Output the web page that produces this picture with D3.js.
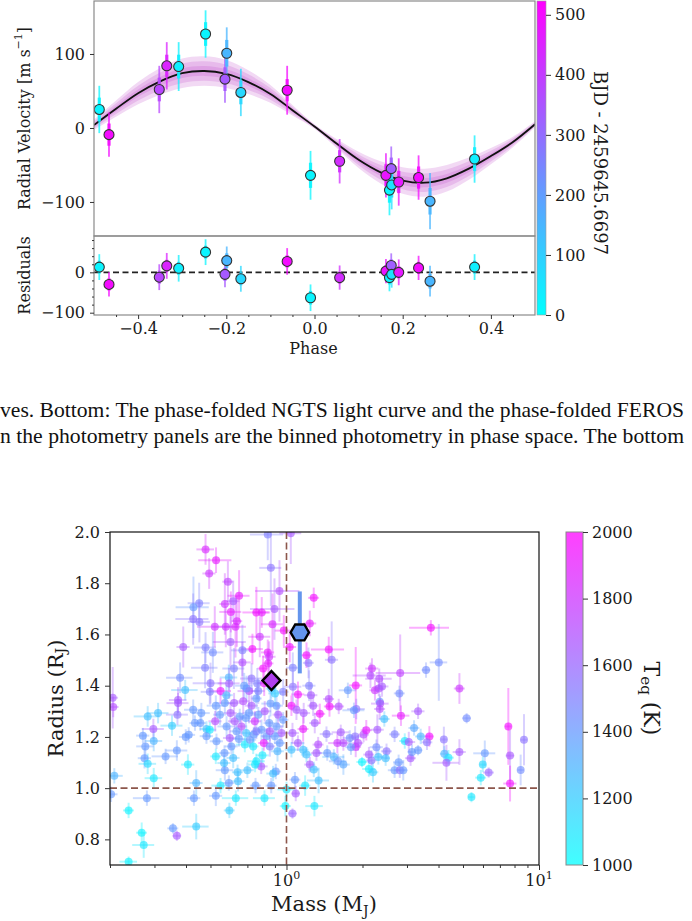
<!DOCTYPE html>
<html><head><meta charset="utf-8">
<script src="https://cdn.jsdelivr.net/npm/d3@7"></script>
<style>body{margin:0;background:#fff}svg{display:block}</style>
</head><body>
<svg id="c" width="692" height="921"></svg>
<script>
// ---------------- RV data (top figure) ----------------
const rvPhase = [-0.488,-0.466,-0.352,-0.335,-0.308,-0.247,-0.199,-0.203,-0.167,-0.062,-0.009,0.057,0.162,0.174,0.170,0.175,0.191,0.236,0.262,0.363];
const rvValue = [25,-9,52,84,83,127,101,66,48,51,-64,-45,-64,-55,-84,-77,-73,-67,-99,-42];
const rvResidual = [13,-30,-12,16,10,50,29,-5,-16,27,-63,-13,3,17,-13,-5,0,11,-22,13];
const rvTime = [20,500,380,450,30,20,150,340,80,500,20,430,480,330,20,60,470,500,150,30];
const rvErrOuter = [32,30,32,32,33,32,35,32,32,33,33,30,30,30,34,33,32,30,38,32];
const rvErrInner = [16,15,16,15,16,16,18,16,16,15,17,15,15,15,17,17,15,15,18,16];
const modelPhase = [-0.5,-0.45,-0.4,-0.35,-0.3,-0.25,-0.2,-0.15,-0.1,-0.05,0,0.05,0.1,0.15,0.2,0.25,0.3,0.35,0.4,0.45,0.5];
const modelRV = [4,26,47,63,74,77,73,62,46,24,2,-21,-43,-60,-71,-74,-68,-55,-38,-19,5];
const modelBand = [7,11,15,18,20,20,19,16,12,7,3,6,11,15,18,19,18,15,11,7,4];
const phaseTicks = [-0.4,-0.2,0,0.2,0.4];
const rvTicks = [-100,0,100];
const resTicks = [-100,0];
const bjdTicks = [0,100,200,300,400,500];

const captionLines = [
  "ves. Bottom: The phase-folded NGTS light curve and the phase-folded FEROS",
  "n the photometry panels are the binned photometry in phase space. The bottom"
];

// ---------------- Mass-radius data (bottom figure) ----------------
const planetMass = [
 0.843,1.04,0.478,0.526,0.494,0.586,0.649,0.867,0.938,1.282,
 0.451,0.428,0.427,0.452,0.570,0.615,0.602,0.636,0.628,0.575,
 0.520,0.760,0.798,0.896,0.880,0.976,1.237,0.784,0.600,0.390,
 0.478,0.511,0.733,0.843,0.669,0.669,1.03,1.20,0.476,0.619,
 1.059,1.222,0.379,0.500,0.397,0.591,0.593,0.727,0.766,0.816,
 0.808,0.846,0.854,1.06,1.11,1.229,1.25,0.548,0.68,0.711,
 0.205,0.372,0.90,
 3.73,1.47,1.51,4.01,3.57,2.18,2.15,2.33,2.82,1.88,
 1.75,2.24,2.32,2.39,2.80,4.84,1.47,2.34,
 1.48,1.61,1.89,1.85,2.35,2.34,2.84,3.32,2.44,5.17,
 7.56,8.72,1.44,1.64,1.78,1.87,2.02,2.07,2.29,2.68,
 3.20,2.94,3.05,3.40,3.68,3.60,4.20,4.84,1.59,1.68,
 1.88,1.92,1.80,2.27,2.49,1.45,1.54,1.60,1.68,1.99,
 2.12,2.17,2.31,2.47,2.12,2.20,2.78,2.68,2.81,2.90,
 3.10,3.14,3.32,4.22,4.38,4.30,6.10,5.99,5.88,6.32,
 7.68,8.46,7.68,5.40,
 0.206,0.372,0.370,0.282,0.31,0.352,0.297,0.270,0.276,0.298,
 0.274,0.282,0.332,0.368,0.399,0.41,0.407,0.208,0.298,0.439,
 0.202,0.280,0.43,0.525,0.63,0.818,0.237,0.267,0.272,0.355,
 0.368,0.439,0.594,0.237,0.99,1.056,1.088,1.29,1.34,1.185,
 1.08,1.0,0.921,0.907,0.885,0.794,0.760,0.751,0.803,0.70,
 0.64,0.643,0.591,0.57,0.566,0.525,0.615,0.568,0.754,0.548,
 0.87,0.525,0.57,0.62,0.674,0.727,0.864,0.913,0.522,0.579,
 0.624,0.663,0.69,0.749,0.796,0.854,0.913,0.955,0.833,0.742,
 0.596,0.648,0.684,0.716,0.813,0.899,0.482,0.434,0.456,0.497,
 0.482,1.046,1.095,1.17,1.275,1.355,1.294,1.164,1.056,1.11,
 1.046,1.164,1.2,1.335,1.314,1.237,1.283,
 0.545,0.60,0.653,0.711,0.773,0.82,0.927,0.97,0.634,0.76,
 0.859,0.693,0.605,0.738,0.859,0.94,0.528,0.46,0.427,0.695,
 0.773,0.871,0.97,0.497,0.578,0.76
];
const planetRadius = [
 1.99,1.995,1.932,1.89,1.838,1.806,1.751,1.86,1.77,1.743,
 1.722,1.706,1.66,1.649,1.719,1.73,1.688,1.652,1.63,1.63,
 1.63,1.686,1.686,1.699,1.64,1.615,1.643,1.591,1.571,1.551,
 1.549,1.53,1.543,1.53,1.538,1.491,1.551,1.519,1.47,1.467,
 1.47,1.489,1.431,1.41,1.383,1.432,1.409,1.428,1.409,1.41,
 1.467,1.487,1.513,1.396,1.366,1.40,1.363,1.379,1.40,1.379,
 1.353,1.344,1.37,
 1.626,1.541,1.501,1.491,1.461,1.467,1.44,1.427,1.45,1.401,
 1.382,1.382,1.389,1.397,1.37,1.389,1.348,1.337,
 1.319,1.319,1.309,1.304,1.33,1.309,1.283,1.30,1.27,1.273,
 1.241,1.189,1.211,1.218,1.196,1.202,1.209,1.226,1.228,1.21,
 1.235,1.184,1.18,1.202,1.202,1.179,1.19,1.141,1.176,1.176,
 1.161,1.176,1.16,1.16,1.144,1.137,1.122,1.105,1.092,1.102,
 1.131,1.108,1.122,1.117,1.075,1.062,1.101,1.07,1.07,1.07,
 1.117,1.141,1.148,1.134,1.119,1.099,1.136,1.092,1.041,1.061,
 1.127,1.071,1.018,0.965,
 1.317,1.332,1.287,1.28,1.293,1.244,1.231,1.205,1.163,1.184,
 1.117,1.095,1.124,1.147,1.20,1.208,1.092,1.048,1.039,1.02,
 0.976,0.961,0.961,0.97,0.961,0.961,0.913,0.826,0.778,0.843,
 0.814,0.85,0.913,0.713,0.93,0.901,0.979,0.93,1.03,1.01,
 1.033,0.995,1.144,1.065,1.057,1.085,1.105,1.092,1.128,1.07,
 1.062,1.027,1.02,1.07,1.098,1.124,1.118,1.137,1.01,1.01,
 1.01,1.322,1.332,1.332,1.339,1.322,1.33,1.322,1.261,1.241,
 1.261,1.241,1.274,1.261,1.228,1.254,1.241,1.215,1.203,1.209,
 1.196,1.192,1.17,1.189,1.176,1.203,1.231,1.254,1.254,1.228,
 1.203,1.322,1.306,1.293,1.322,1.29,1.254,1.231,1.215,1.176,
 1.15,1.15,1.131,1.17,1.137,1.092,1.073,
 1.287,1.293,1.28,1.293,1.287,1.30,1.287,1.267,1.222,1.222,
 1.222,1.215,1.163,1.163,1.163,1.176,1.183,1.293,1.306,1.389,
 1.379,1.389,1.376,1.376,1.363,1.35
];
const planetTeq = [
 1500,1650,1850,1900,1800,1750,1900,1550,1700,1950,
 1500,1400,1550,1550,1800,1650,1900,1850,1850,1800,
 1800,1950,1900,1650,1850,1950,1900,1800,1650,1650,
 1500,1450,1950,1900,1500,1700,1950,1950,1500,1500,
 1500,1550,1450,1550,1250,1300,1650,1550,1500,1900,
 1950,1900,1800,1550,1950,1500,1650,1900,1400,1700,
 1650,1650,1200,
 1950,1950,1550,1450,1450,1800,1700,1700,1750,1950,
 1400,1800,1700,1650,1450,1800,1700,1400,
 1950,1700,1550,1400,1700,1700,1900,1650,1250,1450,
 1950,1550,1550,1650,1450,1550,1700,1900,1650,1500,
 1350,1100,1650,1300,1950,1550,1550,1650,1800,1700,
 1800,1700,1400,1450,1550,1400,1300,1400,1350,1050,
 1650,1550,1250,1250,1050,1200,1400,1400,1550,1400,
 1650,1400,1400,1300,1100,1650,1400,1150,1100,1600,
 1650,1450,1950,1100,
 1700,1650,1550,1250,1250,1200,1650,1400,1400,1300,
 1400,1150,1400,1400,1400,1400,1100,1300,1100,1300,
 1400,1400,1400,1400,1100,1100,1050,1050,1100,1400,
 1650,1200,1200,1050,1050,1600,1650,1100,1250,1100,
 1400,1100,1300,1400,1250,1650,1100,1100,1100,1250,
 1250,1250,1400,1400,1250,1100,1250,1400,1400,1100,
 1400,1400,1400,1650,1700,1650,1400,1400,1700,1400,
 1650,1700,1400,1800,1400,1400,1400,1650,1400,1400,
 1650,1400,1100,1400,1900,1400,1250,1400,1400,1100,
 1400,1950,1650,1650,1650,1950,1650,1900,1650,1650,
 1250,1250,1250,1700,1650,1650,1250,
 1400,1650,1400,1400,1400,1650,1650,1400,1400,1500,
 1650,1250,1400,1100,1500,1400,1400,1400,1400,1400,
 1500,1250,1500,1500,1300,1400
];
const massRelErr = [
 .15,.1,.08,.15,.06,.05,.1,.1,.2,.05,
 .1,.15,.15,.1,.05,.06,.1,.05,.1,.12,
 .15,.12,.08,.2,.1,.08,.06,.1,.15,.06,
 .1,.1,.1,.06,.1,.08,.06,.05,.12,.1,
 .06,.05,.12,.15,.12,.08,.1,.1,.08,.06,
 .05,.05,.06,.08,.06,.06,.06,.1,.08,.1,
 .05,.08,.06,
 .18,.15,.06,.08,.04,.06,.15,.12,.2,.06,
 .08,.05,.05,.06,.05,.05,.05,.04,
 .05,.05,.08,.1,.08,.05,.08,.06,.05,.04,
 .03,.03,.06,.08,.06,.06,.05,.05,.06,.05,
 .05,.05,.06,.05,.04,.05,.03,.06,.08,.06,
 .05,.05,.05,.06,.05,.08,.1,.08,.06,.05,
 .05,.05,.05,.04,.06,.05,.05,.06,.05,.04,
 .05,.04,.04,.04,.05,.12,.1,.03,.05,.05,
 .04,.03,.06,.03,
 .05,.1,.1,.12,.1,.1,.1,.06,.08,.08,
 .06,.08,.12,.1,.06,.06,.06,.08,.08,.06,
 .06,.12,.06,.06,.12,.1,.05,.05,.1,.05,
 .04,.12,.05,.08,.05,.04,.04,.08,.1,.05,
 .05,.08,.06,.05,.06,.06,.08,.06,.06,.06,
 .05,.06,.05,.08,.06,.05,.06,.05,.05,.08,
 .05,.08,.08,.06,.06,.06,.08,.06,.06,.08,
 .06,.05,.05,.06,.06,.05,.06,.05,.05,.05,
 .06,.06,.08,.06,.05,.05,.06,.05,.05,.06,
 .06,.05,.05,.06,.05,.05,.05,.05,.06,.06,
 .06,.05,.05,.05,.05,.05,.05,
 .06,.06,.05,.06,.05,.06,.05,.05,.06,.05,
 .05,.06,.06,.05,.05,.05,.06,.08,.08,.06,
 .06,.05,.05,.08,.06,.05
];
const radiusErr = [
 .1,.12,.06,.05,.06,.08,.1,.15,.12,.04,
 .08,.12,.1,.08,.12,.08,.08,.1,.12,.08,
 .08,.1,.06,.12,.12,.06,.05,.08,.1,.08,
 .06,.08,.06,.05,.1,.08,.06,.05,.08,.08,
 .06,.06,.06,.08,.04,.05,.06,.06,.06,.05,
 .05,.05,.06,.06,.05,.06,.05,.05,.05,.06,
 .12,.05,.05,
 .03,.05,.15,.15,.03,.04,.05,.04,.15,.15,
 .03,.04,.03,.04,.03,.06,.04,.03,
 .04,.03,.04,.03,.03,.04,.04,.03,.03,.02,
 .15,.1,.03,.03,.03,.04,.03,.04,.06,.03,
 .03,.03,.04,.03,.04,.03,.05,.05,.04,.03,
 .04,.03,.03,.03,.03,.03,.03,.03,.04,.02,
 .03,.04,.03,.03,.03,.04,.03,.03,.03,.04,
 .03,.03,.02,.03,.03,.07,.05,.03,.03,.02,
 .1,.06,.07,.02,
 .04,.04,.04,.04,.04,.04,.04,.03,.05,.04,
 .04,.04,.03,.04,.03,.03,.04,.03,.04,.05,
 .03,.03,.03,.04,.03,.03,.03,.04,.05,.02,
 .02,.05,.03,.02,.04,.02,.03,.04,.05,.04,
 .03,.03,.04,.03,.03,.03,.03,.03,.03,.03,
 .03,.04,.03,.04,.03,.03,.04,.03,.03,.03,
 .03,.04,.04,.04,.05,.04,.05,.04,.04,.04,
 .03,.04,.03,.04,.04,.03,.04,.03,.03,.03,
 .04,.03,.03,.03,.03,.03,.03,.03,.03,.03,
 .03,.04,.04,.04,.04,.04,.04,.05,.04,.03,
 .03,.03,.03,.03,.03,.03,.03,
 .04,.04,.03,.04,.03,.04,.04,.03,.03,.03,
 .04,.03,.03,.03,.04,.03,.03,.04,.04,.05,
 .05,.04,.05,.05,.04,.04
];
// highlighted planets: [diamond, hexagon]
const targetMass = [0.872, 1.129];
const targetRadius = [1.42, 1.608];
const targetRadiusErr = [0.02, 0.16];
const targetColor = ["#b040ee", "#6495ed"];
const radiusTicks = [0.8,1.0,1.2,1.4,1.6,1.8,2.0];
const massMajorTicks = [1,10];
const massMinorTicks = [0.2,0.3,0.4,0.5,0.6,0.7,0.8,0.9,2,3,4,5,6,7,8,9];
const teqTicks = [1000,1200,1400,1600,1800,2000];

// ---------------- drawing ----------------
const svg = d3.select('#c');
const FONT = "'DejaVu Serif', serif";
const cool = t => { t = Math.max(0, Math.min(1, t)); return d3.rgb(255*t, 255*(1-t), 255).formatHex(); };
const defs = svg.append('defs');

function styleAxis(g, fs) {
  g.attr('font-family', FONT).attr('font-size', fs);
  g.select('.domain').remove();
  g.selectAll('text').attr('font-family', FONT).attr('font-size', fs).attr('fill', '#1a1a1a');
  g.selectAll('line').attr('stroke', '#333').attr('stroke-width', 1);
}

// ===== TOP: RV =====
const X0 = 94, X1 = 535, Y0 = 1, Y1 = 236, Y2 = 315;
const xPh = d3.scaleLinear([-0.5, 0.5], [X0, X1]);
const yRV = d3.scaleLinear([-146, 171.6], [Y1, Y0]);
const yRes = d3.scaleLinear([-105.7, 90], [Y2, Y1]);
const tNorm = d3.scaleLinear([0, 523], [0, 1]);
const colT = v => cool(tNorm(v));

defs.append('clipPath').attr('id', 'clipRV').append('rect')
  .attr('x', X0).attr('y', Y0).attr('width', X1 - X0).attr('height', Y1 - Y0);
defs.append('clipPath').attr('id', 'clipRes').append('rect')
  .attr('x', X0).attr('y', Y1).attr('width', X1 - X0).attr('height', Y2 - Y1);

const model = modelPhase.map((p, i) => ({ p, v: modelRV[i], h: modelBand[i] }));
const gBand = svg.append('g').attr('clip-path', 'url(#clipRV)');
[1, 0.66, 0.33].forEach(f => {
  gBand.append('path').datum(model)
    .attr('d', d3.area().x(d => xPh(d.p)).y0(d => yRV(d.v - d.h * f)).y1(d => yRV(d.v + d.h * f)).curve(d3.curveCatmullRom))
    .attr('fill', '#c040c8').attr('fill-opacity', 0.2);
});
gBand.append('path').datum(model)
  .attr('d', d3.line().x(d => xPh(d.p)).y(d => yRV(d.v)).curve(d3.curveCatmullRom))
  .attr('fill', 'none').attr('stroke', '#111').attr('stroke-width', 1.8);

const rvData = rvPhase.map((p, i) => ({ p, v: rvValue[i], r: rvResidual[i], t: rvTime[i], eo: rvErrOuter[i], ei: rvErrInner[i] }));

function drawRVPoints(g, yS, key) {
  g.selectAll('line.eo').data(rvData).join('line')
    .attr('x1', d => xPh(d.p)).attr('x2', d => xPh(d.p))
    .attr('y1', d => yS(d[key] - d.eo)).attr('y2', d => yS(d[key] + d.eo))
    .attr('stroke', d => colT(d.t)).attr('stroke-width', 1.8).attr('stroke-opacity', 0.75);
  g.selectAll('line.ei').data(rvData).join('line')
    .attr('x1', d => xPh(d.p)).attr('x2', d => xPh(d.p))
    .attr('y1', d => yS(d[key] - d.ei)).attr('y2', d => yS(d[key] + d.ei))
    .attr('stroke', d => colT(d.t)).attr('stroke-width', 3.2).attr('stroke-opacity', 0.9);
  g.selectAll('circle').data(rvData).join('circle')
    .attr('cx', d => xPh(d.p)).attr('cy', d => yS(d[key])).attr('r', 5)
    .attr('fill', d => colT(d.t)).attr('stroke', '#333').attr('stroke-width', 1.1);
}
const gRVpts = svg.append('g').attr('clip-path', 'url(#clipRV)');
drawRVPoints(gRVpts, yRV, 'v');

// residual panel
const gRes = svg.append('g').attr('clip-path', 'url(#clipRes)');
gRes.append('line').attr('x1', X0).attr('x2', X1).attr('y1', yRes(0)).attr('y2', yRes(0))
  .attr('stroke', '#222').attr('stroke-width', 1.8).attr('stroke-dasharray', '6,3.5');
const gResPts = gRes.append('g');
drawRVPoints(gResPts, yRes, 'r');

// frames
svg.append('rect').attr('x', X0).attr('y', Y0).attr('width', X1 - X0).attr('height', Y1 - Y0)
  .attr('fill', 'none').attr('stroke', '#8a8a8a').attr('stroke-width', 1.2);
svg.append('rect').attr('x', X0).attr('y', Y1).attr('width', X1 - X0).attr('height', Y2 - Y1)
  .attr('fill', 'none').attr('stroke', '#8a8a8a').attr('stroke-width', 1.2);

// axes
const aRV = svg.append('g').attr('transform', `translate(${X0},0)`)
  .call(d3.axisLeft(yRV).tickValues(rvTicks).tickSize(4).tickPadding(5));
styleAxis(aRV, 16);
const aRes = svg.append('g').attr('transform', `translate(${X0},0)`)
  .call(d3.axisLeft(yRes).tickValues(resTicks).tickSize(4).tickPadding(5));
styleAxis(aRes, 16);
const aResMin = svg.append('g').attr('transform', `translate(${X0},0)`)
  .call(d3.axisLeft(yRes).tickValues(d3.range(-80, 90, 20).filter(v => v !== 0)).tickSize(2).tickFormat(''));
styleAxis(aResMin, 16);
const aPh = svg.append('g').attr('transform', `translate(0,${Y2})`)
  .call(d3.axisBottom(xPh).tickValues(phaseTicks).tickSize(4).tickPadding(4).tickFormat(d3.format('.1f')));
styleAxis(aPh, 16);
const aPhMin = svg.append('g').attr('transform', `translate(0,${Y2})`)
  .call(d3.axisBottom(xPh).tickValues(d3.range(-9, 10).filter(k => k % 4 !== 0).map(k => k * 0.05)).tickSize(2).tickFormat(''));
styleAxis(aPhMin, 16);

// labels
const rvLab = svg.append('text').attr('transform', `translate(24,${(Y0 + Y1) / 2}) rotate(-90)`)
  .attr('text-anchor', 'middle').attr('dominant-baseline', 'central')
  .attr('font-family', FONT).attr('font-size', 16).attr('fill', '#1a1a1a');
rvLab.append('tspan').text('Radial Velocity [m s');
rvLab.append('tspan').attr('font-size', 11).attr('dy', -6).text('−1');
rvLab.append('tspan').attr('dy', 6).text(']');
svg.append('text').attr('transform', `translate(24,${(Y1 + Y2) / 2}) rotate(-90)`)
  .attr('text-anchor', 'middle').attr('dominant-baseline', 'central')
  .attr('font-family', FONT).attr('font-size', 16).attr('fill', '#1a1a1a').text('Residuals');
svg.append('text').attr('x', (X0 + X1) / 2 - 1).attr('y', 354).attr('text-anchor', 'middle')
  .attr('font-family', FONT).attr('font-size', 16).attr('fill', '#1a1a1a').text('Phase');

// top colorbar
const CB0 = 537, CB1 = 546;
const gradT = defs.append('linearGradient').attr('id', 'gradT').attr('x1', 0).attr('y1', 1).attr('x2', 0).attr('y2', 0);
gradT.append('stop').attr('offset', 0).attr('stop-color', cool(0));
gradT.append('stop').attr('offset', 1).attr('stop-color', cool(1));
const yCbT = d3.scaleLinear([0, 523], [Y2, Y0]);
svg.append('rect').attr('x', CB0).attr('y', Y0).attr('width', CB1 - CB0).attr('height', Y2 - Y0)
  .attr('fill', 'url(#gradT)').attr('stroke', '#999').attr('stroke-width', 0.6);
const aCbT = svg.append('g').attr('transform', `translate(${CB1},0)`)
  .call(d3.axisRight(yCbT).tickValues(bjdTicks).tickSize(5).tickPadding(4).tickFormat(d3.format('d')));
styleAxis(aCbT, 16);
svg.append('text').attr('transform', `translate(600,163) rotate(90)`)
  .attr('text-anchor', 'middle').attr('dominant-baseline', 'central')
  .attr('font-family', FONT).attr('font-size', 18).attr('fill', '#1a1a1a').text('BJD - 2459645.6697');

// ===== caption =====
captionLines.forEach((s, i) => {
  svg.append('text').attr('x', 0).attr('y', 417 + i * 26)
    .attr('font-family', "'Liberation Serif', 'Times New Roman', serif").attr('font-size', 21)
    .attr('fill', '#111').attr('textLength', 684).attr('lengthAdjust', 'spacingAndGlyphs').text(s);
});

// ===== BOTTOM: Mass-Radius =====
const MX0 = 110, MX1 = 539, MY0 = 532, MY1 = 865;
const xM = d3.scaleLog([0.2, 10], [MX0, MX1]);
const yR = d3.scaleLinear([0.7, 2.0], [MY1, MY0]);
const teqNorm = d3.scaleLinear([1000, 2000], [0, 1]);
const colTeq = v => cool(teqNorm(v));

defs.append('clipPath').attr('id', 'clipMR').append('rect')
  .attr('x', MX0).attr('y', MY0).attr('width', MX1 - MX0).attr('height', MY1 - MY0);

const planets = planetMass.map((m, i) => ({ m, r: planetRadius[i], t: planetTeq[i], dm: massRelErr[i], dr: radiusErr[i] }));
const gMR = svg.append('g').attr('clip-path', 'url(#clipMR)');
const gErr = gMR.append('g').attr('stroke-opacity', 0.33).attr('stroke-width', 2);
gErr.selectAll('line.h').data(planets).join('line')
  .attr('x1', d => xM(d.m * (1 - d.dm))).attr('x2', d => xM(d.m * (1 + d.dm)))
  .attr('y1', d => yR(d.r)).attr('y2', d => yR(d.r)).attr('stroke', d => colTeq(d.t));
gErr.selectAll('line.v').data(planets).join('line')
  .attr('x1', d => xM(d.m)).attr('x2', d => xM(d.m))
  .attr('y1', d => yR(d.r - d.dr)).attr('y2', d => yR(d.r + d.dr)).attr('stroke', d => colTeq(d.t));
gMR.append('g').selectAll('circle').data(planets).join('circle')
  .attr('cx', d => xM(d.m)).attr('cy', d => yR(d.r)).attr('r', 4)
  .attr('fill', d => colTeq(d.t)).attr('fill-opacity', 0.62);

// reference lines
gMR.append('line').attr('x1', xM(1)).attr('x2', xM(1)).attr('y1', MY0).attr('y2', MY1)
  .attr('stroke', '#8c564b').attr('stroke-width', 1.6).attr('stroke-dasharray', '7,3.5');
gMR.append('line').attr('x1', MX0).attr('x2', MX1).attr('y1', yR(1)).attr('y2', yR(1))
  .attr('stroke', '#8c564b').attr('stroke-width', 1.6).attr('stroke-dasharray', '7,3.5');

// highlighted planets
targetMass.forEach((m, i) => {
  gMR.append('line').attr('x1', xM(m)).attr('x2', xM(m))
    .attr('y1', yR(targetRadius[i] - targetRadiusErr[i])).attr('y2', yR(targetRadius[i] + targetRadiusErr[i]))
    .attr('stroke', targetColor[i]).attr('stroke-width', 4);
});
const diamond = [[0, -9.5], [9, 0], [0, 9.5], [-9, 0]];
const hexagon = d3.range(6).map(k => [9.2 * Math.cos(k * Math.PI / 3), 9.2 * Math.sin(k * Math.PI / 3)]);
[diamond, hexagon].forEach((shape, i) => {
  gMR.append('path').attr('d', 'M' + shape.map(p => p.join(',')).join('L') + 'Z')
    .attr('transform', `translate(${xM(targetMass[i])},${yR(targetRadius[i])})`)
    .attr('fill', targetColor[i]).attr('stroke', '#000').attr('stroke-width', 2.4).attr('stroke-linejoin', 'miter');
});

// frame
svg.append('rect').attr('x', MX0).attr('y', MY0).attr('width', MX1 - MX0).attr('height', MY1 - MY0)
  .attr('fill', 'none').attr('stroke', '#111').attr('stroke-width', 1.2);

// axes
const aR = svg.append('g').attr('transform', `translate(${MX0},0)`)
  .call(d3.axisLeft(yR).tickValues(radiusTicks).tickSize(5).tickPadding(5).tickFormat(d3.format('.1f')));
styleAxis(aR, 16);
const aM = svg.append('g').attr('transform', `translate(0,${MY1})`)
  .call(d3.axisBottom(xM).tickValues(massMajorTicks).tickSize(5).tickFormat(''));
styleAxis(aM, 16);
const aMm = svg.append('g').attr('transform', `translate(0,${MY1})`)
  .call(d3.axisBottom(xM).tickValues(massMinorTicks).tickSize(3).tickFormat(''));
styleAxis(aMm, 16);
massMajorTicks.forEach(v => {
  const t = svg.append('text').attr('x', xM(v)).attr('y', 886).attr('text-anchor', 'middle')
    .attr('font-family', FONT).attr('font-size', 16).attr('fill', '#1a1a1a');
  t.append('tspan').text('10');
  t.append('tspan').attr('font-size', 11).attr('dy', -7).text(String(Math.round(Math.log10(v))));
});
const rLab = svg.append('text').attr('transform', `translate(56,${(MY0 + MY1) / 2}) rotate(-90)`)
  .attr('text-anchor', 'middle').attr('dominant-baseline', 'central')
  .attr('font-family', FONT).attr('font-size', 21).attr('fill', '#1a1a1a');
rLab.append('tspan').text('Radius (R');
rLab.append('tspan').attr('font-size', 14).attr('dy', 5).text('J');
rLab.append('tspan').attr('dy', -5).text(')');
const mLab = svg.append('text').attr('x', 324).attr('y', 911).attr('text-anchor', 'middle')
  .attr('font-family', FONT).attr('font-size', 21).attr('fill', '#1a1a1a');
mLab.append('tspan').text('Mass (M');
mLab.append('tspan').attr('font-size', 14).attr('dy', 5).text('J');
mLab.append('tspan').attr('dy', -5).text(')');

// bottom colorbar
const CC0 = 566, CC1 = 583;
const gradB = defs.append('linearGradient').attr('id', 'gradB').attr('x1', 0).attr('y1', 1).attr('x2', 0).attr('y2', 0);
gradB.append('stop').attr('offset', 0).attr('stop-color', cool(0)).attr('stop-opacity', 0.75);
gradB.append('stop').attr('offset', 1).attr('stop-color', cool(1)).attr('stop-opacity', 0.75);
const yCbB = d3.scaleLinear([1000, 2000], [MY1, MY0]);
svg.append('rect').attr('x', CC0).attr('y', MY0).attr('width', CC1 - CC0).attr('height', MY1 - MY0)
  .attr('fill', 'url(#gradB)').attr('stroke', '#888').attr('stroke-width', 1);
const aCbB = svg.append('g').attr('transform', `translate(${CC1},0)`)
  .call(d3.axisRight(yCbB).tickValues(teqTicks).tickSize(5).tickPadding(4).tickFormat(d3.format('d')));
styleAxis(aCbB, 16);
const tLab = svg.append('text').attr('transform', `translate(652,${(MY0 + MY1) / 2}) rotate(90)`)
  .attr('text-anchor', 'middle').attr('dominant-baseline', 'central')
  .attr('font-family', FONT).attr('font-size', 22).attr('fill', '#1a1a1a');
tLab.append('tspan').text('T');
tLab.append('tspan').attr('font-size', 15).attr('dy', 6).text('eq');
tLab.append('tspan').attr('dy', -6).text(' (K)');
</script>
</body></html>
